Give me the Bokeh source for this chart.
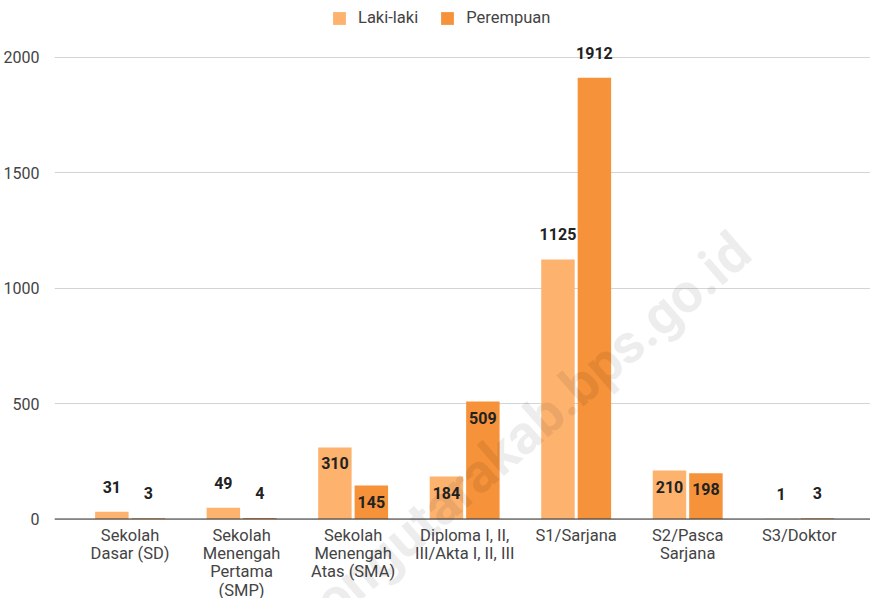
import math
from bokeh.plotting import figure
from bokeh.models import (ColumnDataSource, Range1d, FixedTicker, Legend, LegendItem, Label, Span)
from bokeh.core.properties import value
from bokeh.embed import file_html
from bokeh.resources import INLINE

categories = ["Sekolah\nDasar (SD)", "Sekolah\nMenengah\nPertama\n(SMP)", "Sekolah\nMenengah\nAtas (SMA)",
              "Diploma I, II,\nIII/Akta I, II, III", "S1/Sarjana", "S2/Pasca\nSarjana", "S3/Doktor"]
laki_laki = [31, 49, 310, 184, 1125, 210, 1]
perempuan = [3, 4, 145, 509, 1912, 198, 3]
y_ticks = [0, 500, 1000, 1500, 2000]
series_names = ["Laki-laki", "Perempuan"]

C_LAKI = "#fdb26e"
C_PER = "#f5923a"
FONT = "Roboto"

idx = list(range(len(categories)))
dodge = 0.1634
bw = 0.30

p = figure(width=870, height=598, output_backend="svg", toolbar_location=None,
           x_range=Range1d(-0.6776, 6.639), y_range=Range1d(-344.5, 2247.0),
           min_border_left=52, min_border_right=0, min_border_top=0, min_border_bottom=0)
p.outline_line_color = None
p.background_fill_color = "white"
p.border_fill_color = "white"

# y grid + baseline
p.xgrid.grid_line_color = None
p.ygrid.grid_line_color = "#d4d4d4"
p.ygrid.grid_line_width = 1
p.add_layout(Span(location=0, dimension="width", line_color="#333333", line_width=1, level="overlay"))

r1 = p.vbar(x=[i - dodge for i in idx], top=laki_laki, width=bw, bottom=0,
            fill_color=C_LAKI, line_color=None)
r2 = p.vbar(x=[i + dodge for i in idx], top=perempuan, width=bw, bottom=0,
            fill_color=C_PER, line_color=None)

def label_src(xs, vals):
    offs = [16 if 100 <= v < 1000 else -25 for v in vals]
    return ColumnDataSource(dict(x=xs, y=vals, t=[str(v) for v in vals], off=offs))

for xs, vals in (([i - dodge for i in idx], laki_laki), ([i + dodge for i in idx], perempuan)):
    p.text(x="x", y="y", text="t", y_offset="off", source=label_src(xs, vals),
           text_align="center", text_baseline="middle", text_font=value(FONT),
           text_font_style="bold", text_font_size="16px", text_color="#222222")

# category labels (drawn below the baseline)
cat_src = ColumnDataSource(dict(x=idx, y=[0] * len(idx), t=categories))
p.text(x="x", y="y", text="t", source=cat_src, y_offset=7,
       text_align="center", text_baseline="top", text_font=value(FONT),
       text_font_size="16.5px", text_color="#444444", text_line_height=0.96)

# axes
p.xaxis.visible = False
p.yaxis.ticker = FixedTicker(ticks=y_ticks)
p.yaxis.axis_line_color = None
p.yaxis.major_tick_line_color = None
p.yaxis.minor_tick_line_color = None
p.yaxis.major_label_standoff = 9
p.yaxis.major_label_text_font = FONT
p.yaxis.major_label_text_font_size = "16px"
p.yaxis.major_label_text_color = "#444444"

legend = Legend(items=[LegendItem(label=series_names[0], renderers=[r1]),
                       LegendItem(label=series_names[1], renderers=[r2])],
                orientation="horizontal", location=(277, 571),
                glyph_width=16, glyph_height=16, label_standoff=11, spacing=21,
                padding=0, margin=0, border_line_color=None, background_fill_alpha=0,
                label_text_font=FONT, label_text_font_size="16.5px", label_text_color="#444444",
                label_height=18)
p.add_layout(legend)

wm = Label(x=5.49, y=1195, text="bolmongutarakab.bps.go.id", angle=math.radians(41),
           text_align="right", text_baseline="middle", text_font=FONT, text_font_style="bold",
           text_font_size="55px", text_color="#000000", text_alpha=0.07)
p.add_layout(wm)

open("out.html", "w").write(file_html(p, INLINE))
